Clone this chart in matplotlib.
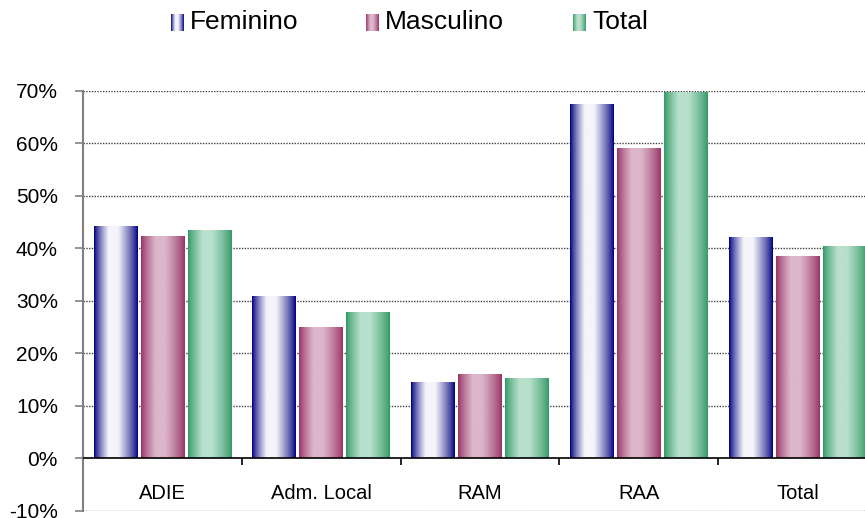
import numpy as np
import matplotlib
matplotlib.use("Agg")
import matplotlib.pyplot as plt
from matplotlib.ticker import PercentFormatter

plt.rcParams['font.family'] = ['Liberation Sans', 'DejaVu Sans']
plt.rcParams['axes.unicode_minus'] = False

# Données (proportions)
categorias = ["ADIE", "Adm. Local", "RAM", "RAA", "Total"]
feminino = [0.441, 0.307, 0.143, 0.673, 0.420]
masculino = [0.422, 0.248, 0.159, 0.589, 0.383]
total = [0.433, 0.277, 0.151, 0.696, 0.402]
series = ["Feminino", "Masculino", "Total"]
yticks = [-0.10, 0.0, 0.10, 0.20, 0.30, 0.40, 0.50, 0.60, 0.70]

# Cores: (borda, centro) do degradê horizontal
cores = [((0, 0, 128), (244, 244, 250)),
         ((153, 51, 102), (220, 182, 202)),
         ((51, 153, 102), (184, 224, 204))]


def gradiente(borda, centro, n=64):
    t = np.linspace(0, 1, n)
    m = np.interp(t, [0, 0.33, 0.55, 1], [0, 1, 1, 0]) ** 0.8
    b = np.array(borda) / 255
    c = np.array(centro) / 255
    return (b[None, :] * (1 - m[:, None]) + c[None, :] * m[:, None])[None, :, :]


fig = plt.figure(figsize=(8.65, 5.18), dpi=100)
ax = fig.add_axes([83 / 865, 7 / 518, 794 / 865, 420.5 / 518])

x = np.arange(len(categorias)) + 0.5
largura = 0.274
passo = 0.296
for k, valores in enumerate([feminino, masculino, total]):
    barras = ax.bar(x + (k - 1) * passo, valores, largura, color='none', zorder=3)
    img = gradiente(*cores[k])
    for p in barras.patches:
        x0, y0 = p.get_x(), p.get_y()
        ax.imshow(img, extent=(x0, x0 + p.get_width(), y0, y0 + p.get_height()),
                  aspect='auto', interpolation='bilinear', zorder=3)

ax.set_xlim(0, len(categorias))
ax.set_ylim(-0.10, 0.70)

# Grelha pontilhada
for v in yticks:
    if v == 0:
        ax.axhline(v, color='black', lw=1.2, zorder=4)
    else:
        ax.axhline(v, color='#404040', lw=1, linestyle=(0, (1, 1)), zorder=1)

# Separadores das categorias
ax.vlines(np.arange(1, len(categorias)), -0.012, 0, color='black', lw=1.2, zorder=4)

for xi, nome in zip(x, categorias):
    ax.text(xi, -0.066, nome, ha='center', va='center', fontsize=14.5)

ax.set_yticks(yticks)
ax.yaxis.set_major_formatter(PercentFormatter(1.0, decimals=0))
ax.tick_params(axis='y', direction='out', length=6, width=1.2, color='#808080',
               labelsize=15, pad=12)
ax.set_xticks([])
for s in ['top', 'right', 'bottom']:
    ax.spines[s].set_visible(False)
ax.spines['left'].set_color('#808080')
ax.spines['left'].set_linewidth(1.5)

# Legenda manual com degradê
leg_x = [171, 366, 573]
for k, nome in enumerate(series):
    lax = fig.add_axes([leg_x[k] / 865, (518 - 31) / 518, 13 / 865, 17 / 518])
    lax.imshow(gradiente(*cores[k]), aspect='auto', interpolation='bilinear')
    lax.axis('off')
    fig.text((leg_x[k] + 19) / 865, (518 - 22) / 518, nome, fontsize=19,
             va='center', ha='left')

fig.savefig("out.png", dpi=100)
